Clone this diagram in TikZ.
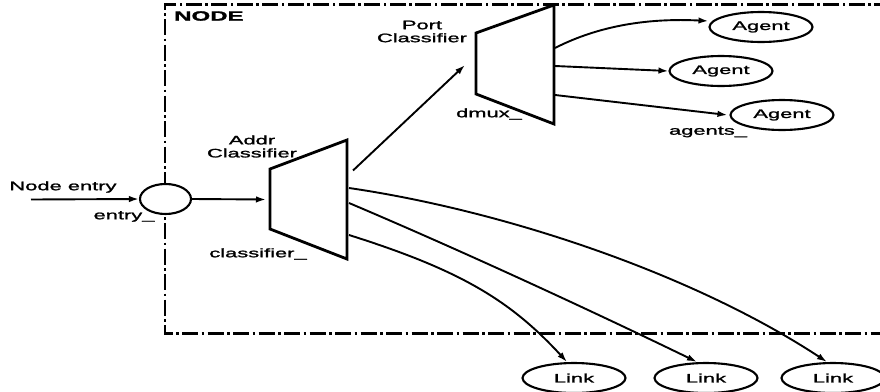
\documentclass[tikz,border=0pt]{standalone}
\usepackage{fontspec}
\setmainfont{Liberation Sans}[FakeStretch=1.78, FakeBold=1.6]
\usetikzlibrary{shapes.geometric,arrows.meta}
\begin{document}
\begin{tikzpicture}[x=1pt,y=-1pt,
  lbl/.style={font=\fontsize{12.3}{13}\selectfont, inner sep=0pt, align=center},
  boxline/.style={line width=2.4pt, dash pattern=on 16pt off 3.5pt on 2.5pt off 3.5pt},
  classbox/.style={line width=2.8pt, line join=miter},
  unit/.style={ellipse, draw, line width=2.1pt, fill=white, minimum width=103pt, minimum height=30pt, inner sep=0pt, font=\fontsize{12.3}{13}\selectfont},
  flow/.style={line width=1.9pt, -{Latex[length=10pt,width=6.5pt]}}
]
\useasboundingbox (0,0) rectangle (880,391);
\begin{scope}
\clip (0,0) rectangle (880,391);

% node boundary (dash-dotted)
\draw[boxline] (890,4.5) -- (165,4.5) -- (165,333.5) -- (890,333.5);
\node[lbl, font=\fontsize{13.5}{14}\selectfont\bfseries, anchor=west] (nodetitle) at (174,16) {NODE};

% entry point
\node[ellipse, draw, line width=2.1pt, fill=white, minimum width=51pt, minimum height=30pt] (entry) at (165.5,199) {};
\node[lbl] (entrytxt) at (63,187) {Node entry};
\node[lbl] (entrylbl) at (124,216.5) {entry\_};
\coordinate (src) at (31,199.5);

% address classifier
\draw[classbox, fill=white] (270,169) -- (347,140) -- (347,259) -- (270,229) -- cycle;
\coordinate (addrIn) at (266,199.5);
\coordinate (addrUp) at (353,170.5);
\coordinate (addrA) at (349,188);
\coordinate (addrB) at (349,203);
\coordinate (addrC) at (349,235);
\node[lbl] (addrtxt) at (252,146.5) {Addr\\Classifier};
\node[lbl] (addrlbl) at (258,254) {classifier\_};

% port classifier
\draw[classbox, fill=white] (476,33) -- (554,5) -- (554,124) -- (476,94) -- cycle;
\coordinate (portIn) at (465,65);
\coordinate (portA) at (555,48);
\coordinate (portB) at (555,66);
\coordinate (portC) at (555,95);
\node[lbl] (porttxt) at (422,31.5) {Port\\Classifier};
\node[lbl] (portlbl) at (489,114) {dmux\_};

% agents
\node[unit] (ag1) at (761,27) {Agent};
\node[unit] (ag2) at (721,71) {Agent};
\node[unit] (ag3) at (782,115) {Agent};
\node[lbl] (aglbl) at (708,132) {agents\_};

% links
\node[unit] (lk1) at (574,378) {Link};
\node[unit] (lk2) at (706,378) {Link};
\node[unit] (lk3) at (833,378) {Link};

% connectors
\draw[flow] (src) -- (entry.west);
\draw[flow] (entry.east) -- (addrIn);
\draw[flow] (addrUp) -- (portIn);
\draw[flow] (portA) .. controls (600,25) and (650,18) .. ([yshift=6pt]ag1.west);
\draw[flow] (portB) -- (ag2.west);
\draw[flow] (portC) -- ([xshift=-2pt]ag3.west);
\draw[flow] (addrA) .. controls (500,210) and (690,272) .. ([xshift=-6pt]lk3.north);
\draw[flow] (addrB) .. controls (460,250) and (590,310) .. ([xshift=-9pt]lk2.north);
\draw[flow] (addrC) .. controls (460,270) and (510,300) .. ([xshift=-7pt]lk1.north);
\end{scope}
\end{tikzpicture}
\end{document}
